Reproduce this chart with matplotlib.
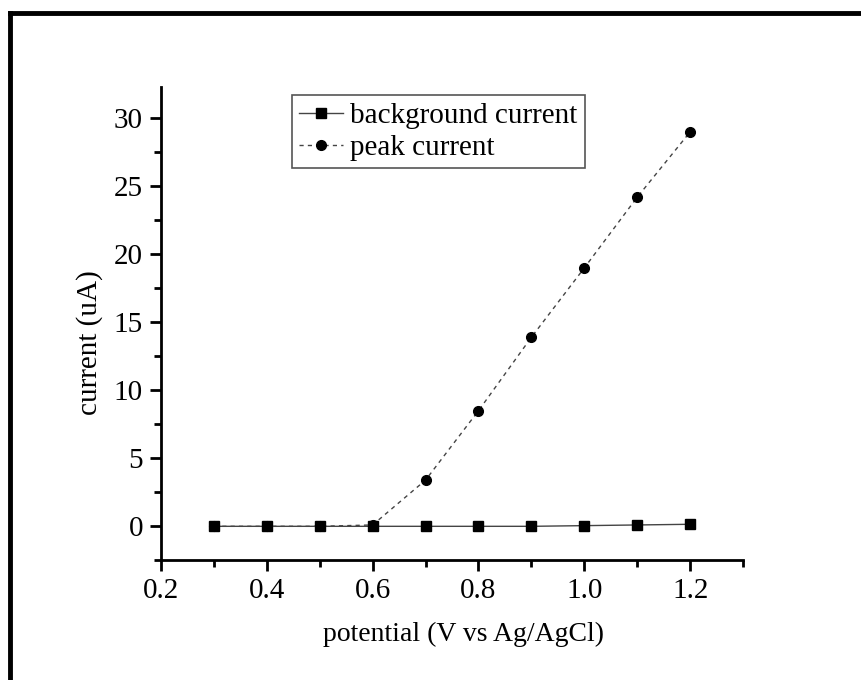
import numpy as np
import matplotlib.pyplot as plt
from matplotlib.lines import Line2D
from matplotlib.ticker import MultipleLocator

potential = [0.3, 0.4, 0.5, 0.6, 0.7, 0.8, 0.9, 1.0, 1.1, 1.2]
background = [0.0, 0.0, 0.0, 0.0, 0.0, 0.0, 0.0, 0.05, 0.1, 0.15]
peak = [0.0, 0.0, 0.0, 0.1, 3.4, 8.5, 13.9, 19.0, 24.2, 29.0]

plt.rcParams['font.family'] = ['Liberation Serif', 'DejaVu Serif']

fig = plt.figure(figsize=(8.61, 6.8), dpi=100)
ax = fig.add_axes([0.187, 0.176, 0.676, 0.696])

ax.plot(potential, background, '-', color='#444444', lw=1.0,
        marker='s', ms=6.5, mfc='black', mec='black', label='background current')
ax.plot(potential, peak, linestyle=(0, (3, 3)), color='#444444', lw=1.0,
        marker='o', ms=7, mfc='black', mec='black', label='peak current')

ax.set_xlim(0.2, 1.3)
ax.set_ylim(-2.5, 32.3)
ax.xaxis.set_major_locator(MultipleLocator(0.2))
ax.xaxis.set_minor_locator(MultipleLocator(0.1))
ax.yaxis.set_major_locator(MultipleLocator(5))
ax.yaxis.set_minor_locator(MultipleLocator(2.5))
ax.set_xticks([0.2, 0.4, 0.6, 0.8, 1.0, 1.2])
ax.set_xticklabels(['0.2', '0.4', '0.6', '0.8', '1.0', '1.2'])

for s in ['top', 'right']:
    ax.spines[s].set_visible(False)
for s in ['left', 'bottom']:
    ax.spines[s].set_linewidth(2)

ax.tick_params(which='major', direction='out', length=8, width=2,
               labelsize=21, pad=5)
ax.tick_params(which='minor', direction='out', length=5, width=2)

ax.set_xlabel('potential (V vs Ag/AgCl)', fontsize=20)
ax.set_ylabel('current (uA)', fontsize=21)
ax.xaxis.set_label_coords(0.519, -0.129)
ax.yaxis.set_label_coords(-0.10, 0.461)

leg = ax.legend(loc='upper left', bbox_to_anchor=(0.225, 0.983), fontsize=21,
                handlelength=1.5, handletextpad=0.25, borderpad=0.25,
                labelspacing=0.2, fancybox=False, framealpha=1,
                borderaxespad=0.0)
leg.get_frame().set_edgecolor('#555555')
leg.get_frame().set_linewidth(1.2)

# figure border (top and left edges visible)
fig.add_artist(Line2D([0.012, 1.0], [0.981, 0.981], color='black', lw=3.5,
                      transform=fig.transFigure))
fig.add_artist(Line2D([0.012, 0.012], [0.0, 0.981], color='black', lw=3.5,
                      transform=fig.transFigure))

fig.savefig('out.png', dpi=100)
